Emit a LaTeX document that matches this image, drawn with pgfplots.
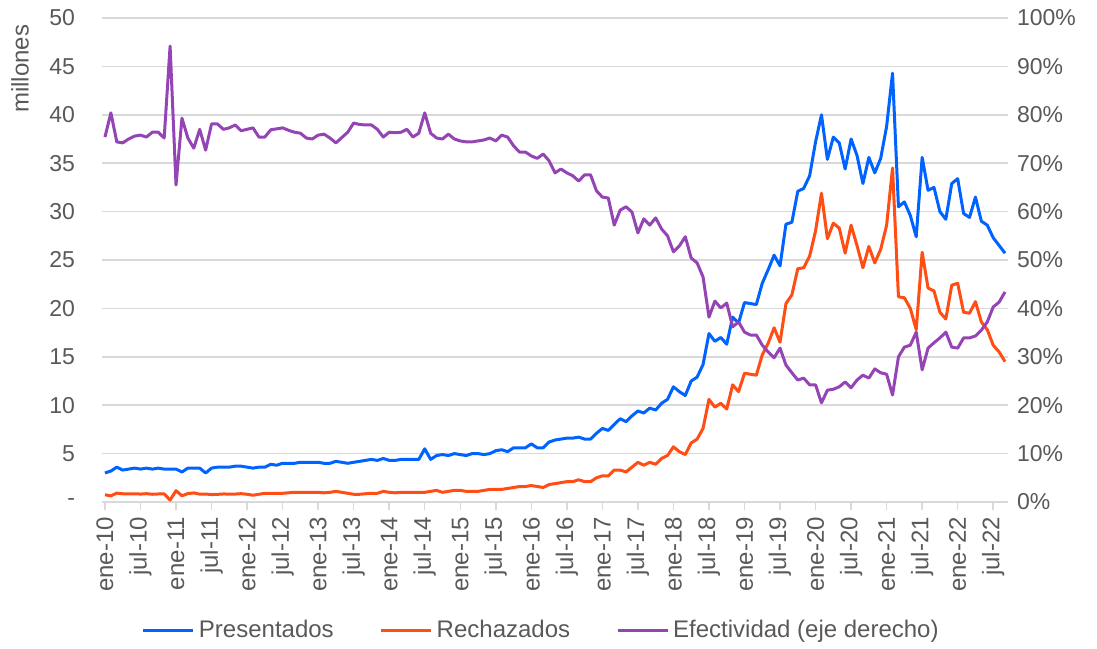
\documentclass[border=0pt]{standalone}
\usepackage{fontspec}
\setmainfont{Liberation Sans}
\usepackage{pgfplots}
\usepackage{pgfplotstable}
\pgfplotsset{compat=1.18}
\definecolor{cPres}{RGB}{0,98,255}
\definecolor{cRech}{RGB}{255,77,20}
\definecolor{cEfec}{RGB}{148,68,180}
\definecolor{cInk}{RGB}{89,89,89}
\definecolor{cGrid}{RGB}{217,217,217}

% month index (0 = ene-10), presentados, rechazados (millones), efectividad (%)
\pgfplotstableread{
i P R E
0 3.0 0.75 75.4
1 3.2 0.63 80.4
2 3.6 0.92 74.4
3 3.3 0.85 74.2
4 3.4 0.85 75.0
5 3.5 0.85 75.6
6 3.4 0.82 75.8
7 3.5 0.86 75.4
8 3.4 0.80 76.4
9 3.5 0.83 76.4
10 3.4 0.84 75.2
11 3.4 0.2 94.2
12 3.4 1.17 65.5
13 3.1 0.64 79.3
14 3.5 0.87 75.2
15 3.5 0.94 73.1
16 3.5 0.81 77.0
17 3.0 0.82 72.7
18 3.5 0.77 78.1
19 3.6 0.79 78.1
20 3.6 0.83 77.0
21 3.6 0.82 77.3
22 3.7 0.82 77.9
23 3.7 0.86 76.7
24 3.6 0.8 77.0
25 3.5 0.7 77.3
26 3.6 0.8 75.4
27 3.6 0.9 75.4
28 3.9 0.9 76.9
29 3.8 0.9 77.1
30 4.0 0.9 77.3
31 4.0 0.95 76.8
32 4.0 1.0 76.4
33 4.1 1.0 76.2
34 4.1 1.0 75.2
35 4.1 1.0 75.0
36 4.1 1.0 75.8
37 4.0 0.95 76.0
38 4.0 1.0 75.2
39 4.2 1.1 74.2
40 4.1 1.0 75.3
41 4.0 0.9 76.4
42 4.1 0.8 78.3
43 4.2 0.8 78.0
44 4.3 0.85 77.9
45 4.4 0.9 77.9
46 4.3 0.9 77.0
47 4.5 1.1 75.4
48 4.3 1.0 76.4
49 4.3 0.95 76.3
50 4.4 1.0 76.4
51 4.4 1.0 77.0
52 4.4 1.0 75.4
53 4.4 1.0 76.2
54 5.5 1.0 80.4
55 4.4 1.1 76.2
56 4.8 1.2 75.2
57 4.9 1.0 75.0
58 4.8 1.1 76.0
59 5.0 1.2 75.0
60 4.9 1.2 74.6
61 4.8 1.1 74.4
62 5.0 1.1 74.4
63 5.0 1.1 74.6
64 4.9 1.2 74.8
65 5.0 1.3 75.2
66 5.3 1.3 74.6
67 5.4 1.3 75.8
68 5.2 1.4 75.4
69 5.6 1.5 73.6
70 5.6 1.6 72.3
71 5.6 1.6 72.3
72 6.0 1.7 71.5
73 5.6 1.6 71.0
74 5.6 1.5 71.9
75 6.2 1.8 70.5
76 6.4 1.9 68.0
77 6.5 2.0 68.8
78 6.6 2.1 68.0
79 6.6 2.1 67.4
80 6.7 2.3 66.3
81 6.5 2.1 67.6
82 6.5 2.1 67.6
83 7.1 2.5 64.3
84 7.6 2.7 63.0
85 7.4 2.7 62.8
86 8.0 3.3 57.2
87 8.6 3.3 60.3
88 8.3 3.1 61.0
89 8.9 3.6 59.9
90 9.4 4.1 55.6
91 9.2 3.8 58.5
92 9.7 4.1 57.2
93 9.5 3.9 58.7
94 10.2 4.5 56.4
95 10.6 4.8 55.0
96 11.9 5.7 51.7
97 11.4 5.2 52.9
98 11.0 4.9 54.8
99 12.5 6.1 50.4
100 12.9 6.5 49.4
101 14.2 7.6 46.5
102 17.4 10.6 38.2
103 16.6 9.8 41.5
104 17.0 10.2 40.1
105 16.3 9.6 41.1
106 19.1 12.1 36.2
107 18.5 11.4 37.2
108 20.6 13.3 35.1
109 20.5 13.2 34.5
110 20.4 13.1 34.5
111 22.6 15.2 32.4
112 24.0 16.4 31.0
113 25.5 18.0 29.8
114 24.4 16.5 31.8
115 28.7 20.5 28.3
116 28.9 21.4 26.7
117 32.1 24.1 25.2
118 32.4 24.2 25.6
119 33.7 25.4 24.2
120 37.2 28.0 24.2
121 40.0 31.9 20.5
122 35.4 27.2 23.1
123 37.7 28.8 23.3
124 37.1 28.3 23.8
125 34.4 25.7 24.8
126 37.5 28.6 23.6
127 35.8 26.5 25.2
128 32.9 24.2 26.2
129 35.6 26.4 25.6
130 34.0 24.7 27.5
131 35.5 26.1 26.7
132 38.8 28.6 26.4
133 44.3 34.5 22.1
134 30.5 21.2 30.0
135 31.0 21.1 32.0
136 29.6 20.0 32.4
137 27.4 17.8 35.1
138 35.6 25.8 27.3
139 32.2 22.1 31.8
140 32.5 21.8 32.9
141 30.0 19.6 33.9
142 29.2 18.9 35.1
143 32.9 22.4 32.0
144 33.4 22.6 31.8
145 29.8 19.6 33.9
146 29.4 19.5 33.9
147 31.5 20.7 34.3
148 29.0 18.6 35.5
149 28.6 17.8 37.2
150 27.3 16.2 40.3
151 26.5 15.5 41.3
152 25.7 14.5 43.4
}\datatable

\pgfplotsset{
  common/.style={
    at={(0,0)}, anchor=south west,
    scale only axis, width=453pt, height=242pt,
    xmin=-0.5, xmax=152.5,
    tick label style={font=\fontsize{11.5}{13}\selectfont, text=cInk},
    /pgf/number format/assume math mode=true,
    every axis plot/.append style={line width=1.5pt, line join=round},
  },
}

\begin{document}
\begin{tikzpicture}
\useasboundingbox (-51pt,-73pt) rectangle (497.5pt,251pt);
\begin{axis}[
  common,
  ymin=0, ymax=50,
  axis x line*=bottom, axis y line*=left,
  y axis line style={draw=none},
  x axis line style={draw=cGrid, line width=0.75pt},
  ytick={0,5,...,50},
  yticklabels={{-\hspace{4pt}},5,10,15,20,25,30,35,40,45,50},
  y tick label style={xshift=-6pt},
  ytick style={draw=none},
  ymajorgrids, grid style={cGrid, line width=0.75pt},
  xtick={0,6,...,150},
  xticklabels={ene-10,jul-10,ene-11,jul-11,ene-12,jul-12,ene-13,jul-13,ene-14,jul-14,ene-15,jul-15,ene-16,jul-16,ene-17,jul-17,ene-18,jul-18,ene-19,jul-19,ene-20,jul-20,ene-21,jul-21,ene-22,jul-22},
  x tick label style={rotate=90, anchor=east, font=\fontsize{12}{13}\selectfont},
  xtick style={draw=cGrid, line width=0.75pt},
  tick align=outside, major tick length=4pt,
  clip=false,
]
\addplot[cPres] table[x=i, y=P] {\datatable};
\addplot[cRech] table[x=i, y=R] {\datatable};
\node[rotate=90, font=\fontsize{12}{14}\selectfont, text=cInk] at (rel axis cs:-0.0905,0.895) {millones};
\end{axis}
\begin{axis}[
  common,
  ymin=0, ymax=100,
  axis x line=none,
  axis y line*=right,
  y axis line style={draw=none},
  ytick style={draw=none},
  ytick={0,10,...,100},
  yticklabels={0\%,10\%,20\%,30\%,40\%,50\%,60\%,70\%,80\%,90\%,100\%},
  y tick label style={xshift=1pt},
  legend style={at={(0.486,-0.2645)}, anchor=center, draw=none, fill=none,
    font=\fontsize{12}{14}\selectfont, text=cInk, legend columns=3,
    /tikz/every even column/.append style={column sep=21pt}},
  legend image code/.code={\draw[#1] (0pt,0pt) -- (25pt,0pt);},
  legend cell align=left,
]
\addlegendimage{cPres, line width=1.5pt}
\addlegendentry{Presentados}
\addlegendimage{cRech, line width=1.5pt}
\addlegendentry{Rechazados}
\addplot[cEfec] table[x=i, y=E] {\datatable};
\addlegendentry{Efectividad (eje derecho)}
\end{axis}
\end{tikzpicture}
\end{document}
